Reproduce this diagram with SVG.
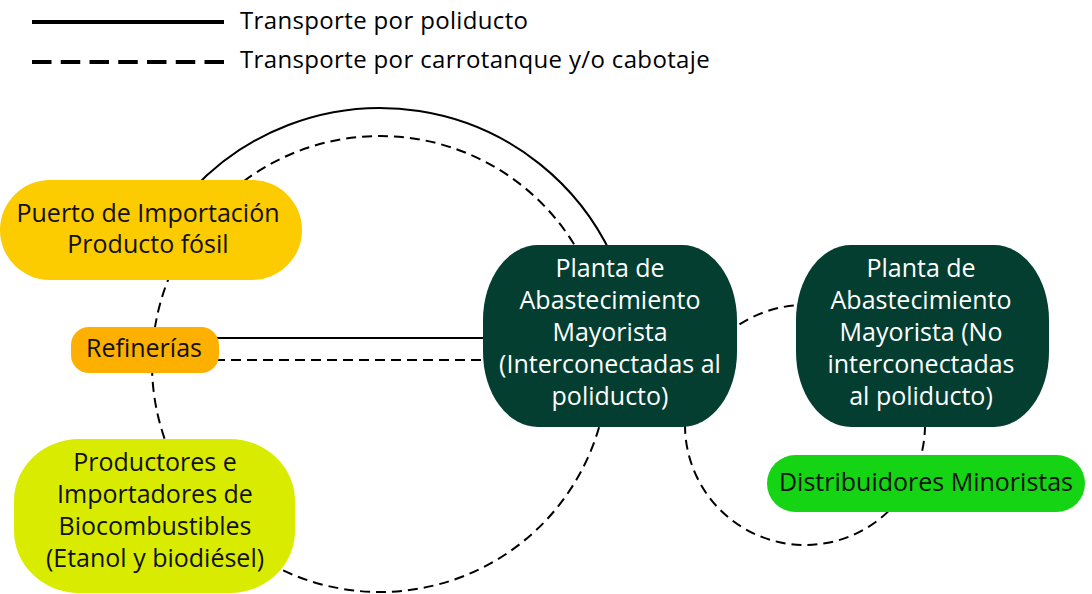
<svg xmlns="http://www.w3.org/2000/svg" width="1092" height="594" viewBox="0 0 1092 594">
<style>
.leg{font-family:"Open Sans","Noto Sans","Liberation Sans",sans-serif;font-size:24px;letter-spacing:0.35px;fill:#000}
.lbl{font-family:"Open Sans","Noto Sans","Liberation Sans",sans-serif;font-size:25px;text-anchor:middle}
.dk{fill:#111}
.wt{fill:#fff}
.solid{fill:none;stroke:#000;stroke-width:2}
.dash{fill:none;stroke:#000;stroke-width:2;stroke-dasharray:10 6}
</style>
<rect width="1092" height="594" fill="#fff"/>
<g id="legend">
<line x1="32" y1="22" x2="224" y2="22" stroke="#000" stroke-width="4"/>
<text class="leg" x="240" y="29">Transporte por poliducto</text>
<line x1="32" y1="62" x2="224" y2="62" stroke="#000" stroke-width="4" stroke-dasharray="19.5 9.25"/>
<text class="leg" x="240" y="68">Transporte por carrotanque y/o cabotaje</text>
</g>
<g id="connectors">
<path class="solid" d="M192.2,190 A256,256 0 0 1 611.6,255"/>
<circle class="dash" cx="380" cy="364" r="228"/>
<line class="solid" x1="215" y1="338" x2="490" y2="338"/>
<line class="dash" x1="215" y1="360" x2="490" y2="360"/>
<circle class="dash" cx="805" cy="425" r="120"/>
</g>
<g id="puerto">
<rect x="0" y="180" width="302" height="100" rx="50" ry="50" fill="#FCCB00"/>
<text class="lbl dk" x="148" y="222">Puerto de Importación</text>
<text class="lbl dk" x="148" y="253">Producto fósil</text>
</g>
<g id="refinerias">
<rect x="71" y="327" width="148" height="46" rx="18" ry="18" fill="#FDB000"/>
<text class="lbl dk" x="144" y="357">Refinerías</text>
</g>
<g id="productores">
<rect x="14" y="439" width="281" height="154" rx="65" ry="62" fill="#D9EC00"/>
<text class="lbl dk" x="155" y="471">Productores e</text>
<text class="lbl dk" x="155" y="503">Importadores de</text>
<text class="lbl dk" x="155" y="535">Biocombustibles</text>
<text class="lbl dk" x="155" y="567">(Etanol y biodiésel)</text>
</g>
<g id="planta-inter">
<rect x="483" y="245" width="254" height="182" rx="55" ry="75" fill="#033E31"/>
<text class="lbl wt" x="610" y="277">Planta de</text>
<text class="lbl wt" x="610" y="309">Abastecimiento</text>
<text class="lbl wt" x="610" y="341">Mayorista</text>
<text class="lbl wt" x="610" y="373">(Interconectadas al</text>
<text class="lbl wt" x="610" y="405">poliducto)</text>
</g>
<g id="planta-no-inter">
<rect x="796" y="245" width="253" height="182" rx="55" ry="75" fill="#033E31"/>
<text class="lbl wt" x="921" y="277">Planta de</text>
<text class="lbl wt" x="921" y="309">Abastecimiento</text>
<text class="lbl wt" x="921" y="341">Mayorista (No</text>
<text class="lbl wt" x="921" y="373">interconectadas</text>
<text class="lbl wt" x="921" y="405">al poliducto)</text>
</g>
<g id="distribuidores">
<rect x="767" y="455" width="318" height="57" rx="28.5" ry="28.5" fill="#14D414"/>
<text class="lbl dk" x="926" y="491">Distribuidores Minoristas</text>
</g>
</svg>
